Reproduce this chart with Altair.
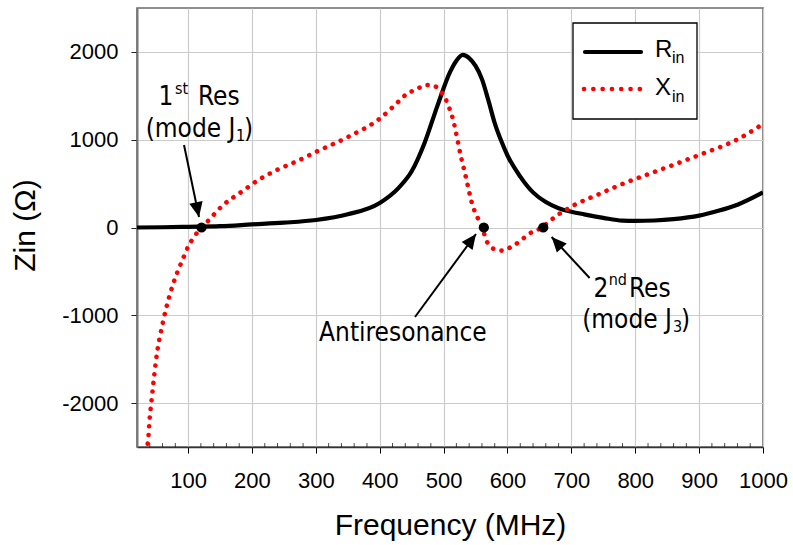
import math
import altair as alt
import pandas as pd

# ---------------- data ----------------
freq_R = [20, 60, 100, 150, 200, 250, 300, 350, 400, 430, 450, 470, 490, 510, 520, 530, 540, 550, 560,
          570, 580, 590, 600, 620, 640, 660, 680, 700, 720, 750, 780, 800, 830, 860, 900, 930, 960, 1000]
R_in = [0, 3, 8, 15, 35, 55, 85, 150, 280, 455, 640, 960, 1380, 1770, 1900, 1965, 1930, 1840, 1690,
        1450, 1190, 990, 820, 580, 400, 290, 220, 180, 150, 110, 78, 76, 80, 95, 135, 190, 260, 400]

freq_X = [35, 38, 40, 42, 46, 50, 60, 70, 80, 90, 100, 110, 121, 130, 155, 184, 210, 239, 275, 300,
          350, 400, 432, 442, 458, 471, 484, 497, 505, 510, 515, 518, 523, 528, 534, 539, 544, 552, 560, 567,
          580, 593, 606, 620, 635, 648, 656, 677, 690, 703, 740, 776, 838, 900, 964, 1000]
X_in = [-2560, -2370, -2160, -2025, -1750, -1500, -1100, -800, -570, -390, -220, -100, 0, 66, 256, 408, 541, 655, 770, 860,
        1030, 1240, 1452, 1520, 1574, 1623, 1615, 1536, 1433, 1338, 1224, 1130, 950, 780, 600, 440, 285, 130, 15, -150,
        -248, -264, -219, -154, -66, -25, 15, 135, 195, 250, 370, 484, 655, 826, 1019, 1180]

x_ticks = [100, 200, 300, 400, 500, 600, 700, 800, 900, 1000]
y_ticks = [-2000, -1000, 0, 1000, 2000]
minor_x_ticks = [40, 60, 80, 120, 140, 160, 180, 220, 240, 260, 280, 320, 340, 360, 380,
                 420, 440, 460, 480, 520, 540, 560, 580, 620, 640, 660, 680, 720, 740, 760, 780,
                 820, 840, 860, 880, 920, 940, 960, 980]
X_DOMAIN = [20, 1000]
Y_DOMAIN = [-2500, 2500]

marker_f = [121, 563, 656]
marker_v = [0, 0, 0]

arrow_f0 = [93.6, 455.2, 728.6]
arrow_v0 = [940, -1019, -575]
arrow_f1 = [117.1, 550.7, 669.1]
arrow_v1 = [119, -74, -108]

# annotation pieces: main-size text, right aligned
big_r_text = ["1", "(mode J", "2", "(mode J"]
big_r_f = [76.8, 174.2, 758.1, 857.5]
big_r_v = [1395, 1031, -788, -1141]
# main-size text, left aligned
big_l_text = ["Res", ")", "Antiresonance", "Res", ")"]
big_l_f = [115.5, 187.5, 305.0, 790.2, 871.6]
big_l_v = [1395, 1031, -1289, -788, -1141]
# superscripts / subscripts, left aligned
small_text = ["st", "1", "nd", "3"]
small_f = [79.5, 175.1, 758.5, 859.1]
small_v = [1520, 989, -650, -1187]

legend_main = ["R", "X"]
legend_sub = ["in", "in"]

# ---------------- layout / style ----------------
W, H = 626, 439
PAD = {"left": 137, "top": 8, "right": 30, "bottom": 98}
AXIS_FONT = "Liberation Sans, Arial, sans-serif"
ANN_FONT = "DejaVu Sans Condensed, DejaVu Sans, sans-serif"
GRID = "#cccccc"

xs = alt.Scale(domain=X_DOMAIN, nice=False, zero=False)
ys = alt.Scale(domain=Y_DOMAIN, nice=False, zero=False)

x_axis = alt.Axis(values=x_ticks, title="Frequency (MHz)", grid=True, gridColor=GRID, gridWidth=1.2,
                  tickColor="#000000", tickSize=6, tickWidth=1, labelFont=AXIS_FONT, labelFontSize=22,
                  labelColor="#000000", labelPadding=17, labelFlush=False, labelOverlap=False,
                  labelExpr="'' + datum.value",
                  domainColor="#333333", domainWidth=1.5, titleFont=AXIS_FONT, titleFontSize=30,
                  titleFontWeight="normal", titleColor="#000000", titleX=W / 2, titleY=87,
                  titleAlign="center", titleBaseline="alphabetic")
y_axis = alt.Axis(values=y_ticks, title="Zin (Ω)", grid=True, gridColor=GRID, gridWidth=1.2,
                  tickColor="#222222", tickSize=6, tickWidth=1, labelFont=AXIS_FONT, labelFontSize=22,
                  labelColor="#000000", labelPadding=13, labelOverlap=False,
                  labelExpr="'' + datum.value",
                  domainColor="#777777", domainWidth=2, titleFont=AXIS_FONT, titleFontSize=30,
                  titleFontWeight="normal", titleColor="#000000", titleX=-103, titleY=217,
                  titleAngle=-90, titleAlign="center", titleBaseline="alphabetic")


def X(field):
    return alt.X(field, type="quantitative", scale=xs, axis=x_axis)


def Y(field):
    return alt.Y(field, type="quantitative", scale=ys, axis=y_axis)


df_R = pd.DataFrame({"f": freq_R, "v": R_in})
df_X = pd.DataFrame({"f": freq_X, "v": X_in})
df_minor = pd.DataFrame({"f": minor_x_ticks, "v": [Y_DOMAIN[0]] * len(minor_x_ticks)})
df_mark = pd.DataFrame({"f": marker_f, "v": marker_v})


def to_px(f, v):
    return ((f - X_DOMAIN[0]) / (X_DOMAIN[1] - X_DOMAIN[0]) * W,
            (Y_DOMAIN[1] - v) / (Y_DOMAIN[1] - Y_DOMAIN[0]) * H)


angles = []
for f0, v0, f1, v1 in zip(arrow_f0, arrow_v0, arrow_f1, arrow_v1):
    x0, y0 = to_px(f0, v0)
    x1, y1 = to_px(f1, v1)
    angles.append(math.degrees(math.atan2(x1 - x0, -(y1 - y0))) % 360)
df_arrow = pd.DataFrame({"f": arrow_f0, "v": arrow_v0, "f2": arrow_f1, "v2": arrow_v1,
                         "ang": angles})
df_head = pd.DataFrame({"f": arrow_f1, "v": arrow_v1, "ang": angles})

df_big_r = pd.DataFrame({"f": big_r_f, "v": big_r_v, "t": big_r_text})
df_big_l = pd.DataFrame({"f": big_l_f, "v": big_l_v, "t": big_l_text})
df_small = pd.DataFrame({"f": small_f, "v": small_v, "t": small_text})

one = pd.DataFrame({"k": [0]})

minor = alt.Chart(df_minor).mark_tick(orient="vertical", size=8, thickness=1, color="#000000",
                                      clip=True).encode(x=X("f"), y=Y("v"))

line_R = alt.Chart(df_R).mark_line(color="#000000", strokeWidth=4.2, interpolate="monotone",
                                   clip=True).encode(x=X("f"), y=Y("v"))
line_X = alt.Chart(df_X).mark_line(color="#ff0000", strokeWidth=4.6, strokeDash=[0.1, 8.6],
                                   strokeCap="round", interpolate="monotone",
                                   clip=True).encode(x=X("f"), y=Y("v"))

markers = alt.Chart(df_mark).mark_circle(size=105, color="#000000", opacity=1).encode(
    x=X("f"), y=Y("v"))

shafts = alt.Chart(df_arrow).mark_rule(color="#000000", strokeWidth=2).encode(
    x=X("f"), y=Y("v"), x2=alt.X2("f2"), y2=alt.Y2("v2"))
heads = alt.Chart(df_head).mark_point(shape="M0,0L-0.45,1L0.45,1Z", size=900, filled=True,
                                      fill="#000000", opacity=1).encode(
    x=X("f"), y=Y("v"), angle=alt.Angle("ang:Q", scale=None))

txt_r = alt.Chart(df_big_r).mark_text(font=ANN_FONT, fontSize=26, align="right", baseline="alphabetic",
                                      color="#000000").encode(x=X("f"), y=Y("v"), text="t:N")
txt_l = alt.Chart(df_big_l).mark_text(font=ANN_FONT, fontSize=26, align="left", baseline="alphabetic",
                                      color="#000000").encode(x=X("f"), y=Y("v"), text="t:N")
txt_s = alt.Chart(df_small).mark_text(font=ANN_FONT, fontSize=16, align="left", baseline="alphabetic",
                                      color="#000000").encode(x=X("f"), y=Y("v"), text="t:N")

# legend (drawn by hand, pixel placement inside the plot area)
leg_box = alt.Chart(one).mark_rect(fill="#ffffff", stroke="#000000", strokeWidth=1.3).encode(
    x=alt.value(436), x2=alt.value(560), y=alt.value(15), y2=alt.value(111))
leg_R = alt.Chart(one).mark_rule(color="#000000", strokeWidth=4.2, strokeCap="round").encode(
    x=alt.value(448), x2=alt.value(504), y=alt.value(44), y2=alt.value(44))
leg_X = alt.Chart(one).mark_rule(color="#ff0000", strokeWidth=4.6, strokeDash=[0.1, 9.2],
                                 strokeCap="round").encode(
    x=alt.value(447), x2=alt.value(504), y=alt.value(81), y2=alt.value(81))
leg_t = []
for i, (ty, sy) in enumerate([(48.7, 55.3), (86.7, 93.7)]):
    leg_t.append(alt.Chart(one).mark_text(font=AXIS_FONT, fontSize=24, align="left",
                                          baseline="alphabetic", color="#000000").encode(
        x=alt.value(518), y=alt.value(ty), text=alt.value(legend_main[i])))
    leg_t.append(alt.Chart(one).mark_text(font=AXIS_FONT, fontSize=16, align="left",
                                          baseline="alphabetic", color="#000000").encode(
        x=alt.value(535), y=alt.value(sy), text=alt.value(legend_sub[i])))

chart = alt.layer(
    line_R, minor, line_X, markers, shafts, heads, txt_r, txt_l, txt_s,
    leg_box, leg_R, leg_X, *leg_t
).properties(
    width=W, height=H, padding=PAD, autosize=alt.AutoSizeParams(type="none"),
    background="#ffffff"
).configure_view(stroke="#6a6a6a", strokeWidth=1.6)

chart.save("out.html", embed_options={"renderer": "svg", "actions": False})
